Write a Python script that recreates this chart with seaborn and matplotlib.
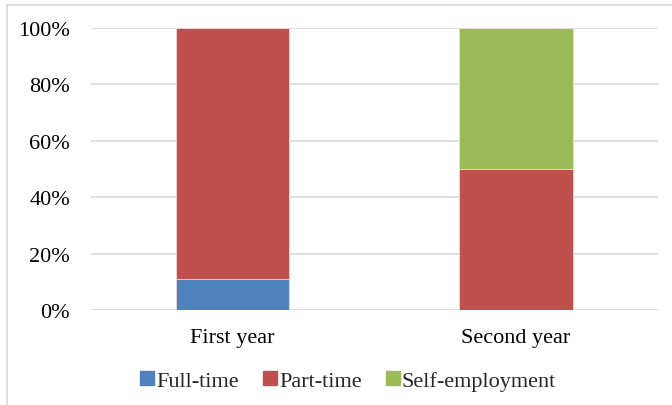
import matplotlib.pyplot as plt
import matplotlib.lines as mlines
import pandas as pd
import seaborn as sns

# Shares of employment type per year (percent)
years = ["First year", "Second year"]
full_time = [11, 0]
part_time = [89, 50]
self_employment = [0, 50]

series = ["Full-time", "Part-time", "Self-employment"]
colors = ["#4F81BD", "#C0504D", "#9BBB59"]

sns.set_style("white")
plt.rcParams["font.family"] = ["Liberation Serif", "DejaVu Serif"]

df = pd.DataFrame({
    "year": years,
    "Full-time": full_time,
    "Part-time": part_time,
    "Self-employment": self_employment,
})
# cumulative tops, drawn from the top layer down
df["c_full"] = df["Full-time"]
df["c_part"] = df["c_full"] + df["Part-time"]
df["c_self"] = df["c_part"] + df["Self-employment"]

fig = plt.figure(figsize=(6.72, 4.06), dpi=100)
ax = fig.add_axes([0.135, 0.234, 0.844, 0.695])

for col, color in zip(["c_self", "c_part", "c_full"], colors[::-1]):
    sns.barplot(data=df, x="year", y=col, color=color, width=0.4,
                saturation=1, ax=ax, zorder=3, linewidth=0.6,
                edgecolor="#F2DCDB")

ax.set_ylim(0, 100)
ax.set_xlim(-0.5, 1.5)
ax.set_yticks(range(0, 101, 20))
ax.set_yticklabels([f"{v}%" for v in range(0, 101, 20)])
ax.yaxis.grid(True, color="#D9D9D9", linewidth=1.2, zorder=0)
ax.set_xlabel("")
ax.set_ylabel("")
ax.tick_params(axis="both", length=0, labelsize=16, colors="black")
ax.tick_params(axis="y", pad=15)
ax.tick_params(axis="x", pad=13)
for s in ax.spines.values():
    s.set_visible(False)
ax.set_axisbelow(True)

handles = [mlines.Line2D([], [], marker="s", linestyle="none", markersize=10,
                         markerfacecolor=c, markeredgecolor=c) for c in colors]
fig.legend(handles, series, loc="center", bbox_to_anchor=(0.515, 0.06),
           ncol=3, frameon=False, fontsize=16, handletextpad=-0.1,
           columnspacing=0.9, handlelength=1.0)

# light frame around the chart area (top and left visible)
fig.add_artist(mlines.Line2D([0.0104, 0.0104], [0.0, 0.985], color="#D9D9D9",
                             linewidth=1.2, transform=fig.transFigure))
fig.add_artist(mlines.Line2D([0.0104, 1.0], [0.985, 0.985], color="#D9D9D9",
                             linewidth=1.2, transform=fig.transFigure))

fig.savefig("out.png", dpi=100)
